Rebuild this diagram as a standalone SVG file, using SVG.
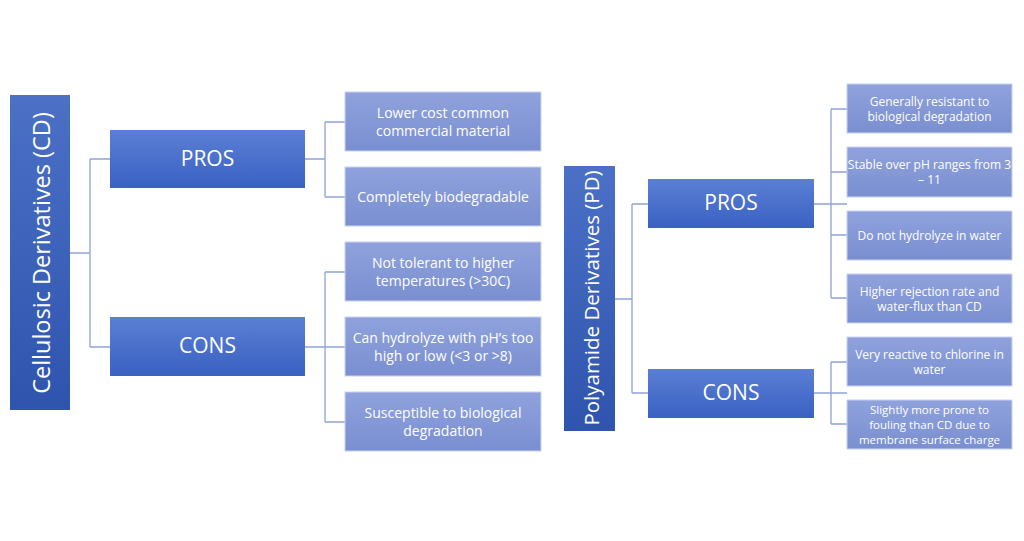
<svg xmlns="http://www.w3.org/2000/svg" width="1024" height="541" viewBox="0 0 1024 541">
<defs>
<linearGradient id="gTitle" x1="0" y1="0" x2="0" y2="1"><stop offset="0" stop-color="#4b70c6"/><stop offset="1" stop-color="#2f54ae"/></linearGradient>
<linearGradient id="gMid" x1="0" y1="0" x2="0" y2="1"><stop offset="0" stop-color="#5a7fd4"/><stop offset="1" stop-color="#3a61c3"/></linearGradient>
<linearGradient id="gLeaf" x1="0" y1="0" x2="0" y2="1"><stop offset="0" stop-color="#8fa2dd"/><stop offset="1" stop-color="#7a8fd1"/></linearGradient>
<style>
.title{fill:url(#gTitle)}
.mid{fill:url(#gMid)}
.leaf{fill:url(#gLeaf);stroke:#c9d2ee;stroke-width:1}
text{font-family:"Open Sans","Liberation Sans",sans-serif;fill:#ffffff;text-anchor:middle;dominant-baseline:central}
.tt{font-size:23.5px}
.pt{font-size:20.5px}
.mt{font-size:21px}
.lt{font-size:14px}
.rt{font-size:12px}
.rs{font-size:11.5px}
.conn{fill:none;stroke:#8ea2d8;stroke-width:1.3}
</style>
</defs>
<rect width="1024" height="541" fill="#ffffff"/>
<g id="connectors">
<path class="conn" d="M70,253H90M90,159V347M90,159H110M90,347H110"/>
<path class="conn" d="M305,159H325M325,122V197M325,122H345M325,197H345"/>
<path class="conn" d="M305,347H345M325,272V422M325,272H345M325,422H345"/>
<path class="conn" d="M615,299H632M632,204V393M632,204H648M632,393H648"/>
<path class="conn" d="M814,204H847M831,109V298M831,109H847M831,172H847M831,235H847M831,298H847"/>
<path class="conn" d="M814,393H847M831,362V424M831,362H847M831,424H847"/>
</g>
<g id="cd"><rect class="title" x="10" y="95" width="60" height="315"/><text class="tt" transform="translate(41,253) rotate(-90)">Cellulosic Derivatives (CD)</text></g>
<g id="cd-pros"><rect class="mid" x="110" y="130" width="195" height="58"/><text class="mt" x="207.5" y="158">PROS</text></g>
<g id="cd-cons"><rect class="mid" x="110" y="317" width="195" height="59"/><text class="mt" x="207.5" y="345">CONS</text></g>
<g id="cd-p1"><rect class="leaf" x="345" y="92" width="196" height="59"/><text class="lt" x="443" y="112">Lower cost common</text><text class="lt" x="443" y="130">commercial material</text></g>
<g id="cd-p2"><rect class="leaf" x="345" y="167" width="196" height="59"/><text class="lt" x="443" y="196">Completely biodegradable</text></g>
<g id="cd-c1"><rect class="leaf" x="345" y="242" width="196" height="59"/><text class="lt" x="443" y="262">Not tolerant to higher</text><text class="lt" x="443" y="280">temperatures (&gt;30C)</text></g>
<g id="cd-c2"><rect class="leaf" x="345" y="317" width="196" height="59"/><text class="lt" x="443" y="337">Can hydrolyze with pH’s too</text><text class="lt" x="443" y="355">high or low (&lt;3 or &gt;8)</text></g>
<g id="cd-c3"><rect class="leaf" x="345" y="392" width="196" height="59"/><text class="lt" x="443" y="412">Susceptible to biological</text><text class="lt" x="443" y="430">degradation</text></g>
<g id="pd"><rect class="title" x="564" y="166" width="51" height="265"/><text class="pt" transform="translate(591,298) rotate(-90)">Polyamide Derivatives (PD)</text></g>
<g id="pd-pros"><rect class="mid" x="648" y="179" width="166" height="49"/><text class="mt" x="731" y="202">PROS</text></g>
<g id="pd-cons"><rect class="mid" x="648" y="369" width="166" height="49"/><text class="mt" x="731" y="392">CONS</text></g>
<g id="pd-p1"><rect class="leaf" x="847" y="84" width="165" height="49"/><text class="rt" x="929.5" y="101">Generally resistant to</text><text class="rt" x="929.5" y="116">biological degradation</text></g>
<g id="pd-p2"><rect class="leaf" x="847" y="147" width="165" height="50"/><text class="rt" x="929.5" y="164">Stable over pH ranges from 3</text><text class="rt" x="929.5" y="179">– 11</text></g>
<g id="pd-p3"><rect class="leaf" x="847" y="211" width="165" height="49"/><text class="rt" x="929.5" y="235.5">Do not hydrolyze in water</text></g>
<g id="pd-p4"><rect class="leaf" x="847" y="274" width="165" height="49"/><text class="rt" x="929.5" y="291">Higher rejection rate and</text><text class="rt" x="929.5" y="306">water-flux than CD</text></g>
<g id="pd-c1"><rect class="leaf" x="847" y="337" width="165" height="49"/><text class="rt" x="929.5" y="354">Very reactive to chlorine in</text><text class="rt" x="929.5" y="369">water</text></g>
<g id="pd-c2"><rect class="leaf" x="847" y="400" width="165" height="49"/><text class="rs" x="929.5" y="409.5">Slightly more prone to</text><text class="rs" x="929.5" y="424.5">fouling than CD due to</text><text class="rs" x="929.5" y="439.5">membrane surface charge</text></g>
</svg>
